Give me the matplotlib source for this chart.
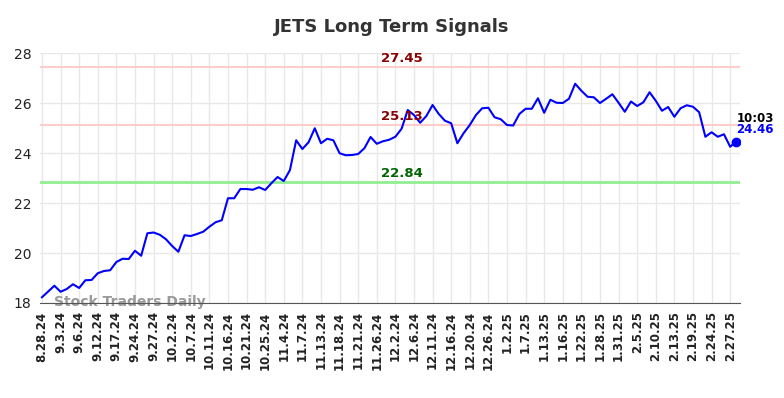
import numpy as np
import matplotlib.pyplot as plt

prices = [18.23, 18.46, 18.69, 18.45, 18.56, 18.75, 18.60, 18.91, 18.92, 19.19,
          19.28, 19.31, 19.64, 19.77, 19.76, 20.09, 19.89, 20.79, 20.82, 20.73,
          20.55, 20.28, 20.05, 20.71, 20.68, 20.76, 20.85, 21.05, 21.23, 21.31,
          22.19, 22.19, 22.56, 22.56, 22.53, 22.63, 22.52, 22.79, 23.04, 22.88,
          23.32, 24.51, 24.16, 24.43, 24.99, 24.39, 24.57, 24.51, 23.99, 23.91,
          23.92, 23.96, 24.19, 24.64, 24.37, 24.47, 24.53, 24.65, 24.97, 25.72,
          25.52, 25.21, 25.48, 25.92, 25.56, 25.29, 25.19, 24.39, 24.79, 25.12,
          25.52, 25.79, 25.81, 25.43, 25.35, 25.12, 25.10, 25.56, 25.77, 25.77,
          26.19, 25.61, 26.13, 26.01, 26.00, 26.17, 26.77, 26.49, 26.25, 26.23,
          26.00, 26.17, 26.35, 26.01, 25.65, 26.06, 25.88, 26.03, 26.43, 26.09,
          25.69, 25.84, 25.45, 25.79, 25.91, 25.85, 25.63, 24.65, 24.83, 24.65,
          24.75, 24.25, 24.46]

tick_labels = ['8.28.24', '9.3.24', '9.6.24', '9.12.24', '9.17.24', '9.24.24', '9.27.24',
               '10.2.24', '10.7.24', '10.11.24', '10.16.24', '10.21.24', '10.25.24',
               '11.4.24', '11.7.24', '11.13.24', '11.18.24', '11.21.24', '11.26.24',
               '12.2.24', '12.6.24', '12.11.24', '12.16.24', '12.20.24', '12.26.24',
               '1.2.25', '1.7.25', '1.13.25', '1.16.25', '1.22.25', '1.28.25', '1.31.25',
               '2.5.25', '2.10.25', '2.13.25', '2.19.25', '2.24.25', '2.27.25']

resistance_hi = 27.45
resistance_lo = 25.13
support = 22.84
last_time = '10:03'

x = np.arange(len(prices))

fig = plt.figure(figsize=(7.84, 3.98), dpi=100)
ax = fig.add_axes([0.051, 0.2387, 0.893, 0.6281])

ax.axhline(resistance_hi, color='#ffcccc', lw=1.5, zorder=1)
ax.axhline(resistance_lo, color='#ffcccc', lw=1.5, zorder=1)
ax.axhline(support, color='#90ee90', lw=2, zorder=1)

ax.plot(x, prices, color='#0000ff', lw=1.5, zorder=3)
ax.plot(x[-1], prices[-1], 'o', color='#0000ff', ms=6, zorder=4)

mid = 58
ax.text(mid, resistance_hi + 0.08, f'{resistance_hi:.2f}', color='#8b0000',
        fontsize=9.5, fontweight='bold', ha='center', va='bottom')
ax.text(mid, resistance_lo + 0.08, f'{resistance_lo:.2f}', color='#8b0000',
        fontsize=9.5, fontweight='bold', ha='center', va='bottom')
ax.text(mid, support + 0.08, f'{support:.2f}', color='#006400',
        fontsize=9.5, fontweight='bold', ha='center', va='bottom')

ax.text(x[-1], prices[-1] + 0.68, last_time, color='black', fontsize=8.5,
        fontweight='bold', ha='left', va='bottom')
ax.text(x[-1], prices[-1] + 0.22, f'{prices[-1]:.2f}', color='#0000ff', fontsize=8.5,
        fontweight='bold', ha='left', va='bottom')

ax.text(2, 17.75, 'Stock Traders Daily', color='#999999', fontsize=10,
        fontweight='bold', ha='left', va='bottom', zorder=2)

ax.set_xlim(-0.32, 112.6)
ax.set_ylim(18, 28)
ax.set_yticks([18, 20, 22, 24, 26, 28])
ax.set_xticks(x[::3])
ax.set_xticklabels(tick_labels, rotation=90, fontsize=8.5, fontweight='bold')
ax.tick_params(axis='both', length=0, labelcolor='#222222')
ax.tick_params(axis='y', labelsize=10, pad=6)
ax.tick_params(axis='x', pad=6)

ax.grid(True, color='#e8e8e8', lw=1)
ax.set_axisbelow(True)
for s in ['top', 'right', 'left']:
    ax.spines[s].set_visible(False)
ax.spines['bottom'].set_color('#555555')

fig.suptitle('JETS Long Term Signals', fontsize=13, fontweight='bold',
             color='#333333', y=0.955)

fig.savefig('out.png', dpi=100)
